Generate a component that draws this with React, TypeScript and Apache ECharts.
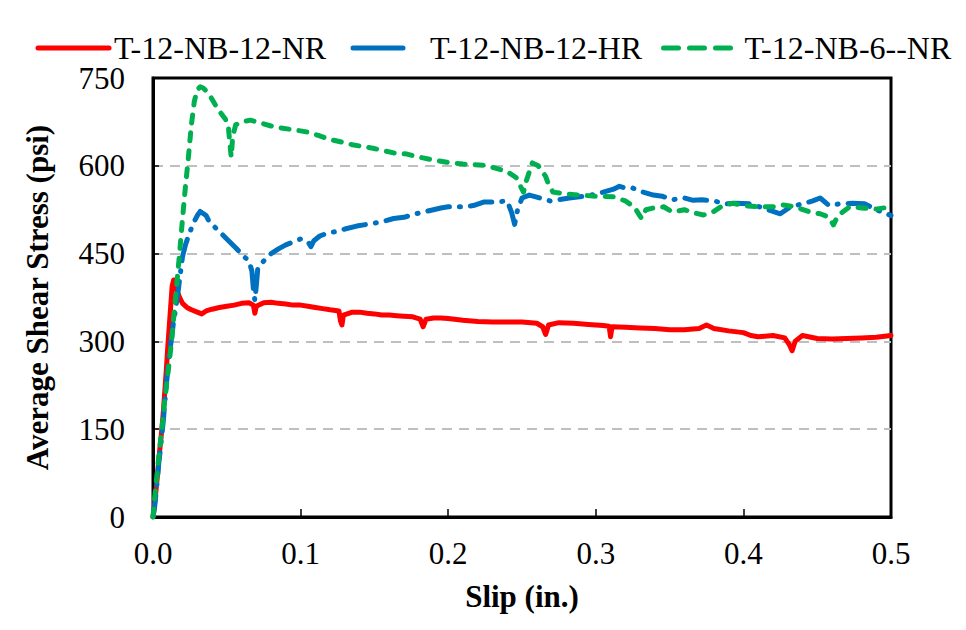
import React, { useEffect, useRef } from "react";
import * as echarts from "echarts";

const seriesNames = ["T-12-NB-12-NR", "T-12-NB-12-HR", "T-12-NB-6--NR"];
const xTicks = { min: 0, max: 0.5, interval: 0.1 };
const yTicks = { min: 0, max: 750, interval: 150 };

const redData: [number, number][] = [
  [0, 0], [0.001, 20], [0.002, 45], [0.003, 70], [0.004, 100], [0.005, 125], [0.006, 150],
  [0.007, 180], [0.008, 215], [0.009, 250], [0.01, 290], [0.011, 325], [0.012, 360],
  [0.013, 395], [0.014, 405], [0.015, 400], [0.016, 388], [0.018, 375], [0.02, 365],
  [0.023, 358], [0.026, 354], [0.03, 350], [0.033, 347], [0.036, 352], [0.04, 355],
  [0.045, 358], [0.05, 360], [0.055, 362], [0.06, 365], [0.065, 366], [0.068, 362],
  [0.069, 348], [0.07, 360], [0.075, 366], [0.08, 367], [0.085, 365], [0.09, 364],
  [0.095, 362], [0.1, 362], [0.105, 360], [0.11, 358], [0.115, 356], [0.12, 354],
  [0.126, 352], [0.127, 335], [0.128, 328], [0.129, 345], [0.135, 350], [0.14, 350],
  [0.145, 348], [0.15, 347], [0.155, 345], [0.16, 345], [0.165, 344], [0.17, 343],
  [0.176, 342], [0.181, 338], [0.183, 325], [0.185, 338], [0.19, 340], [0.195, 340],
  [0.2, 339], [0.21, 336], [0.22, 334], [0.23, 333], [0.24, 333], [0.25, 333],
  [0.26, 331], [0.264, 325], [0.266, 312], [0.268, 328], [0.275, 332], [0.285, 331],
  [0.295, 329], [0.305, 327], [0.309, 326], [0.31, 308], [0.311, 325], [0.32, 324],
  [0.33, 323], [0.34, 322], [0.35, 320], [0.36, 320], [0.37, 322], [0.375, 328],
  [0.38, 322], [0.39, 318], [0.4, 315], [0.405, 310], [0.41, 308], [0.42, 310],
  [0.428, 306], [0.431, 295], [0.433, 284], [0.435, 300], [0.44, 310], [0.45, 305],
  [0.46, 304], [0.47, 305], [0.48, 306], [0.49, 307], [0.5, 310],
];

const blueData: [number, number][] = [
  [0, 0], [0.001, 15], [0.002, 40], [0.003, 65], [0.004, 95], [0.005, 115], [0.006, 140],
  [0.007, 165], [0.008, 195], [0.009, 225], [0.01, 250], [0.011, 275], [0.012, 295],
  [0.013, 315], [0.014, 335], [0.015, 350], [0.016, 368], [0.017, 385], [0.018, 405],
  [0.019, 425], [0.02, 445], [0.022, 465], [0.024, 480], [0.027, 500], [0.03, 515],
  [0.032, 522], [0.036, 515], [0.038, 505], [0.044, 490], [0.05, 475], [0.056, 460],
  [0.062, 444], [0.065, 438], [0.067, 420], [0.068, 390], [0.069, 370], [0.07, 395],
  [0.071, 425], [0.073, 432], [0.076, 440], [0.08, 450], [0.085, 458], [0.09, 465],
  [0.095, 470], [0.1, 475], [0.105, 470], [0.107, 462], [0.109, 472], [0.113, 480],
  [0.118, 485], [0.125, 488], [0.13, 492], [0.138, 497], [0.145, 500], [0.15, 502],
  [0.156, 505], [0.163, 510], [0.17, 512], [0.178, 518], [0.185, 522], [0.19, 525],
  [0.195, 528], [0.2, 530], [0.21, 530], [0.217, 532], [0.224, 538], [0.232, 538],
  [0.24, 540], [0.243, 520], [0.245, 500], [0.247, 525], [0.25, 545], [0.255, 550],
  [0.262, 545], [0.269, 540], [0.275, 542], [0.282, 545], [0.289, 547], [0.297, 550],
  [0.305, 555], [0.312, 560], [0.316, 565], [0.32, 562], [0.325, 562], [0.332, 555],
  [0.339, 550], [0.345, 548], [0.352, 542], [0.36, 545], [0.366, 541], [0.372, 542],
  [0.38, 540], [0.388, 535], [0.395, 536], [0.405, 535], [0.413, 528], [0.42, 522],
  [0.425, 518], [0.432, 530], [0.44, 535], [0.447, 540], [0.452, 545], [0.458, 532],
  [0.465, 535], [0.474, 536], [0.482, 535], [0.49, 525], [0.5, 515],
];

const greenData: [number, number][] = [
  [0, 0], [0.001, 30], [0.002, 55], [0.003, 80], [0.004, 105], [0.005, 128], [0.006, 150],
  [0.007, 175], [0.008, 200], [0.0095, 232], [0.011, 265], [0.0126, 300], [0.014, 340],
  [0.016, 395], [0.018, 450], [0.02, 510], [0.022, 565], [0.024, 615], [0.026, 670],
  [0.028, 710], [0.03, 730], [0.032, 735], [0.034, 733], [0.036, 728], [0.039, 718],
  [0.042, 705], [0.046, 690], [0.049, 680], [0.051, 668], [0.052, 640], [0.053, 615],
  [0.054, 650], [0.056, 670], [0.06, 675], [0.066, 678], [0.072, 674], [0.08, 668],
  [0.086, 665], [0.094, 662], [0.104, 658], [0.112, 652], [0.12, 645], [0.127, 641],
  [0.135, 636], [0.142, 633], [0.149, 630], [0.156, 626], [0.163, 622], [0.172, 620],
  [0.18, 615], [0.19, 610], [0.199, 606], [0.21, 603], [0.218, 602], [0.224, 601],
  [0.232, 596], [0.24, 590], [0.246, 580], [0.249, 565], [0.251, 555], [0.253, 575],
  [0.257, 605], [0.261, 600], [0.266, 582], [0.268, 568], [0.271, 555], [0.28, 552],
  [0.289, 550], [0.3, 548], [0.312, 547], [0.32, 540], [0.326, 530], [0.329, 518],
  [0.331, 510], [0.334, 525], [0.339, 528], [0.346, 530], [0.352, 521], [0.36, 525],
  [0.366, 520], [0.373, 516], [0.38, 522], [0.386, 532], [0.393, 536], [0.4, 532],
  [0.41, 530], [0.42, 530], [0.427, 533], [0.435, 530], [0.445, 521], [0.452, 518],
  [0.458, 512], [0.461, 499], [0.464, 515], [0.472, 530], [0.48, 528], [0.49, 526],
  [0.5, 530],
];

const colors = ["#ff0000", "#0070c0", "#00b050"];
const FONT = "Liberation Serif";

export default function App() {
  const ref = useRef<HTMLDivElement>(null);
  useEffect(() => {
    if (!ref.current) return;
    const chart = echarts.init(ref.current, undefined, { renderer: "svg" });
    const legendText = { fontSize: 32, fontFamily: FONT, color: "#000" };
    const legendCommon = {
      top: 32, padding: 0, itemHeight: 2, selectedMode: false, textStyle: legendText,
      itemStyle: { opacity: 0 },
    };
    chart.setOption({
      animation: false,
      backgroundColor: "#fff",
      textStyle: { fontFamily: FONT },
      graphic: [
        {
          type: "rect",
          shape: { x: 6.5, y: 1.5, width: 957, height: 627 },
          style: { fill: "none", stroke: "#d0d0d0", lineWidth: 1 },
          silent: true,
        },
      ],
      legend: [
        {
          ...legendCommon, data: [seriesNames[0]], left: 35.5, itemWidth: 71,
          lineStyle: { width: 5, type: "solid", cap: "round" },
        },
        {
          ...legendCommon, data: [seriesNames[1]], left: 350.5, itemWidth: 72,
          lineStyle: { width: 5, type: [50, 40], cap: "round" },
        },
        {
          ...legendCommon, data: [seriesNames[2]], left: 661, itemWidth: 76,
          lineStyle: { width: 5, type: [15, 11], cap: "round" },
        },
      ],
      grid: {
        left: 153, right: 75, top: 78, bottom: 113,
        show: true, borderColor: "#000", borderWidth: 3, backgroundColor: "transparent",
      },
      xAxis: {
        type: "value",
        min: xTicks.min, max: xTicks.max, interval: xTicks.interval,
        name: "Slip (in.)", nameLocation: "middle", nameGap: 64,
        nameTextStyle: { fontSize: 31, fontWeight: "bold", fontFamily: FONT, color: "#000" },
        axisLine: { show: true, lineStyle: { color: "#000", width: 3 } },
        axisTick: { show: true, inside: true, length: 8, lineStyle: { color: "#000", width: 1.5 } },
        axisLabel: {
          margin: 21, fontSize: 31, fontFamily: FONT, color: "#000",
          formatter: (v: number) => v.toFixed(1),
        },
        splitLine: { show: false },
      },
      yAxis: {
        type: "value",
        min: yTicks.min, max: yTicks.max, interval: yTicks.interval,
        name: "Average Shear Stress (psi)", nameLocation: "middle", nameGap: 100,
        nameTextStyle: { fontSize: 31, fontWeight: "bold", fontFamily: FONT, color: "#000" },
        axisLine: { show: true, lineStyle: { color: "#000", width: 3 } },
        axisTick: { show: true, inside: true, length: 6, lineStyle: { color: "#000", width: 1.5 } },
        axisLabel: { margin: 28, fontSize: 31, fontFamily: FONT, color: "#000" },
        splitLine: {
          show: true, showMinLine: false, showMaxLine: false,
          lineStyle: { color: "#bfbfbf", width: 2, type: [10, 7] },
        },
      },
      series: [
        {
          name: seriesNames[0], type: "line", data: redData, symbol: "none", showSymbol: false,
          color: colors[0], lineStyle: { color: colors[0], width: 5, cap: "round", join: "round" },
          z: 3,
        },
        {
          name: seriesNames[1], type: "line", data: blueData, symbol: "none", showSymbol: false,
          color: colors[1],
          lineStyle: { color: colors[1], width: 5, type: [22, 10, 1, 10], cap: "round", join: "round" },
          z: 4,
        },
        {
          name: seriesNames[2], type: "line", data: greenData, symbol: "none", showSymbol: false,
          color: colors[2],
          lineStyle: { color: colors[2], width: 5, type: [8, 10], cap: "round", join: "round" },
          z: 5,
        },
      ],
    });
    return () => chart.dispose();
  }, []);
  return <div ref={ref} style={{ width: 966, height: 630, margin: -8 }} />;
}
